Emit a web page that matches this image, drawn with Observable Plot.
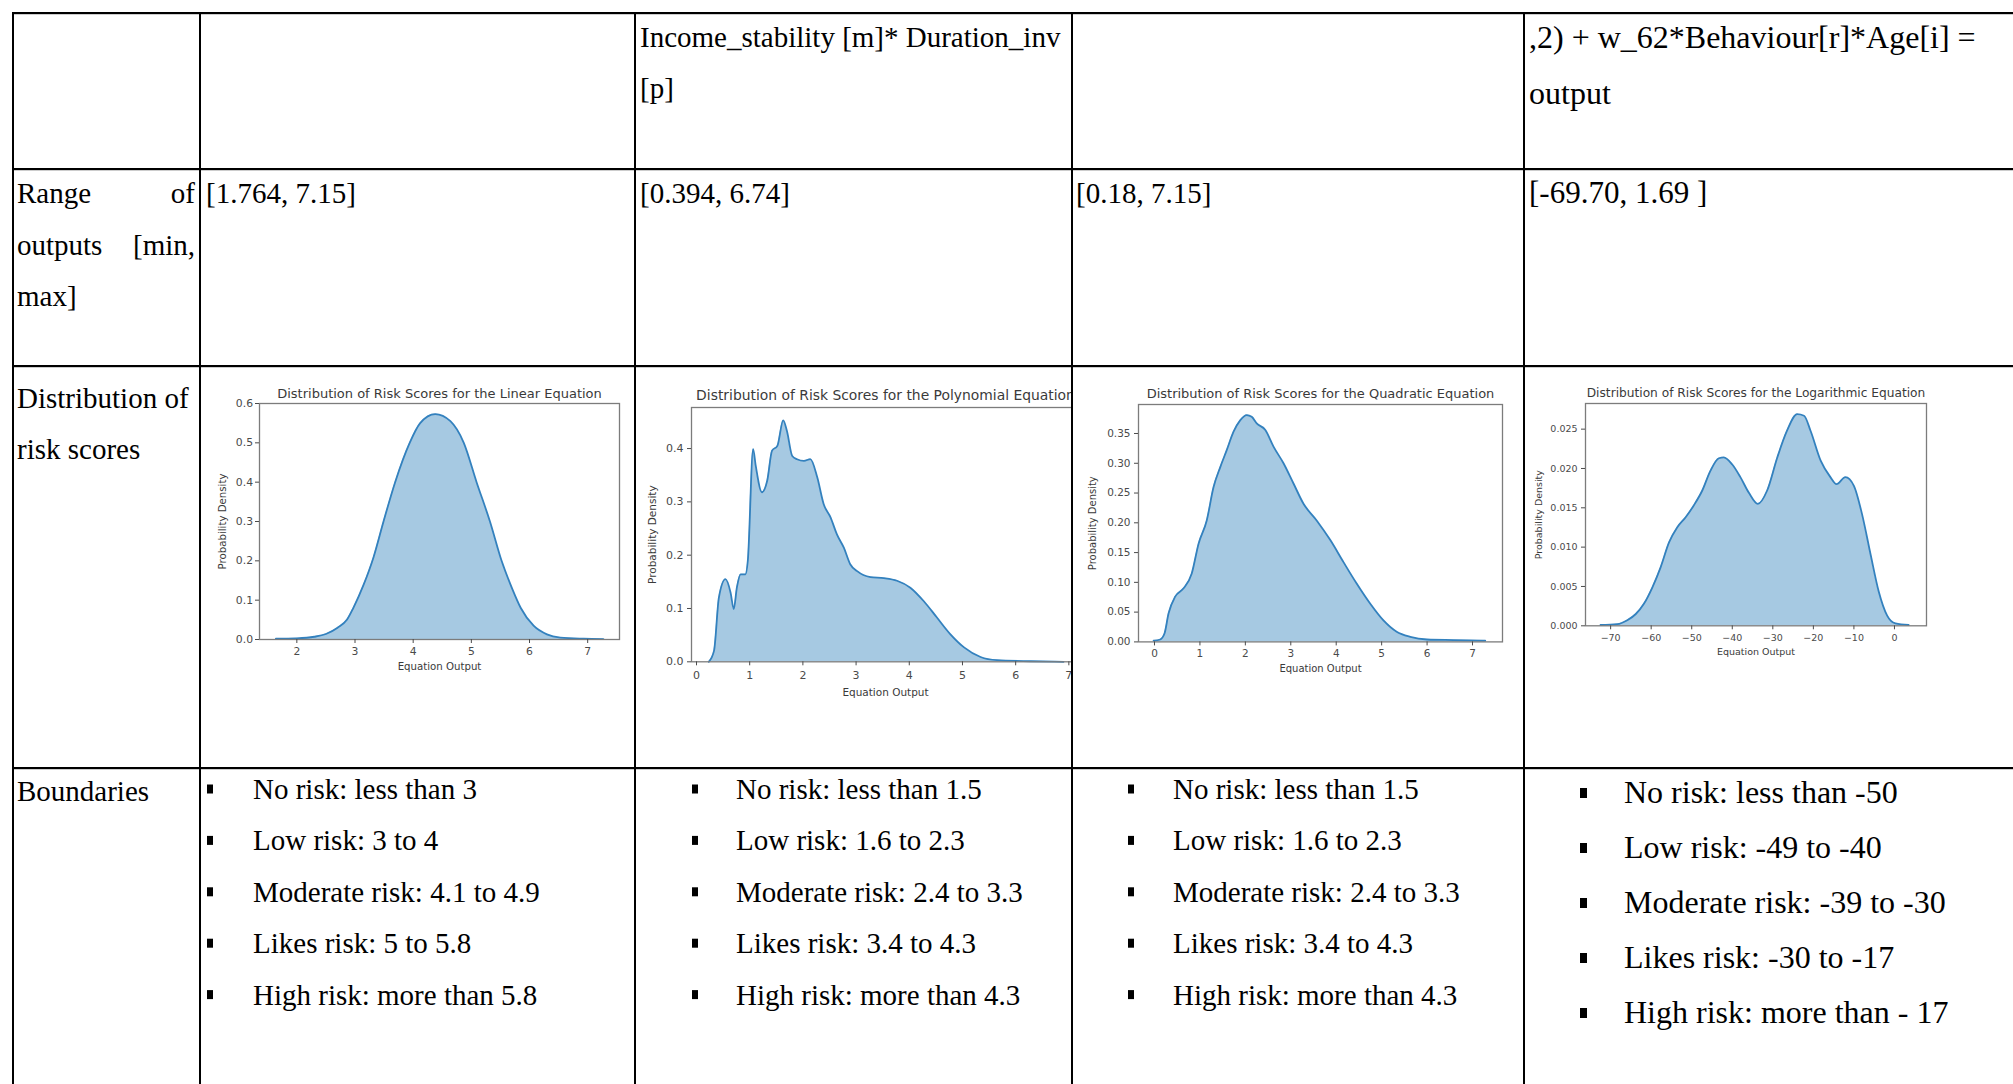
<!DOCTYPE html>
<html>
<head>
<meta charset="utf-8">
<script src="https://cdn.jsdelivr.net/npm/d3@7"></script>
<script src="https://cdn.jsdelivr.net/npm/@observablehq/plot@0.6"></script>
<style>
html, body { margin: 0; padding: 0; background: #fff; }
#page { position: relative; width: 2013px; height: 1084px; overflow: hidden; background: #fff; }
.clip { position: absolute; overflow: hidden; }
.clip svg { position: absolute; }
</style>
</head>
<body>
<div id="page"></div>
<script>
// ---------------- DATA ----------------
const rowLabelRange = [["Range", "of"], ["outputs", "[min,"], ["max]"]];
const rowLabelDist = ["Distribution of", "risk scores"];
const rowLabelBounds = ["Boundaries"];
const headerPoly = ["Income_stability [m]* Duration_inv", "[p]"];
const headerLog = [",2) + w_62*Behaviour[r]*Age[i] =", "output"];
const rangeTexts = ["[1.764, 7.15]", "[0.394, 6.74]", "[0.18, 7.15]", "[-69.70, 1.69 ]"];

const boundsLinear = ["No risk: less than 3", "Low risk: 3 to 4", "Moderate risk: 4.1 to 4.9", "Likes risk: 5 to 5.8", "High risk: more than 5.8"];
const boundsPoly = ["No risk: less than 1.5", "Low risk: 1.6 to 2.3", "Moderate risk: 2.4 to 3.3", "Likes risk: 3.4 to 4.3", "High risk: more than 4.3"];
const boundsQuad = ["No risk: less than 1.5", "Low risk: 1.6 to 2.3", "Moderate risk: 2.4 to 3.3", "Likes risk: 3.4 to 4.3", "High risk: more than 4.3"];
const boundsLog = ["No risk: less than -50", "Low risk: -49 to -40", "Moderate risk: -39 to -30", "Likes risk: -30 to -17", "High risk: more than - 17"];

const chartTitles = [
  "Distribution of Risk Scores for the Linear Equation",
  "Distribution of Risk Scores for the Polynomial Equation",
  "Distribution of Risk Scores for the Quadratic Equation",
  "Distribution of Risk Scores for the Logarithmic Equation"
];
const xAxisLabel = "Equation Output";
const yAxisLabel = "Probability Density";

// Linear equation density
const linearX = [1.64, 2.0, 2.3, 2.5, 2.7, 2.86, 2.97, 3.15, 3.32, 3.49, 3.69, 3.94, 4.12, 4.38, 4.64, 4.87, 5.09, 5.32, 5.52, 5.70, 5.85, 6.07, 6.30, 6.53, 6.93, 7.27];
const linearY = [0.002, 0.003, 0.007, 0.014, 0.030, 0.050, 0.080, 0.140, 0.210, 0.300, 0.400, 0.500, 0.550, 0.573, 0.555, 0.500, 0.400, 0.300, 0.200, 0.130, 0.080, 0.035, 0.013, 0.005, 0.002, 0.001];

// Polynomial equation density
const polyX = [0.23, 0.33, 0.42, 0.545, 0.64, 0.70, 0.76, 0.83, 0.92, 0.965, 1.065, 1.11, 1.23, 1.33, 1.42, 1.52, 1.63, 1.70, 1.80, 1.89, 2.02, 2.14, 2.27, 2.39, 2.52, 2.64, 2.77, 2.89, 3.02, 3.27, 3.52, 3.77, 4.02, 4.27, 4.52, 4.77, 5.03, 5.34, 5.65, 6.28, 6.90];
const polyY = [0.000, 0.021, 0.120, 0.155, 0.130, 0.099, 0.140, 0.164, 0.164, 0.190, 0.399, 0.370, 0.318, 0.340, 0.396, 0.405, 0.453, 0.433, 0.386, 0.380, 0.377, 0.380, 0.346, 0.296, 0.271, 0.239, 0.214, 0.183, 0.170, 0.159, 0.157, 0.152, 0.139, 0.114, 0.083, 0.052, 0.027, 0.009, 0.003, 0.001, 0.000];

// Quadratic equation density
const quadX = [-0.02, 0.125, 0.22, 0.31, 0.455, 0.64, 0.82, 0.97, 1.15, 1.30, 1.45, 1.59, 1.74, 1.885, 2.03, 2.14, 2.25, 2.44, 2.62, 2.84, 3.06, 3.28, 3.57, 3.87, 4.16, 4.45, 4.75, 5.04, 5.33, 5.63, 6.0, 6.58, 7.28];
const quadY = [0.002, 0.004, 0.014, 0.048, 0.076, 0.090, 0.115, 0.165, 0.204, 0.260, 0.294, 0.322, 0.353, 0.372, 0.381, 0.378, 0.367, 0.356, 0.328, 0.300, 0.266, 0.232, 0.204, 0.171, 0.134, 0.098, 0.064, 0.036, 0.017, 0.0084, 0.004, 0.003, 0.002];

// Logarithmic equation density
const logX = [-72.5, -68.4, -65.9, -63.8, -61.8, -59.7, -57.7, -55.6, -53.6, -51.5, -49.5, -47.4, -45.4, -43.3, -42.1, -40.0, -38.0, -35.9, -33.7, -31.4, -28.9, -26.5, -24.0, -22.3, -20.7, -18.2, -15.8, -14.3, -12.1, -10.0, -8.0, -5.9, -3.9, -1.8, 0.25, 3.5];
const logY = [0.0001, 0.0002, 0.0007, 0.0015, 0.0028, 0.0049, 0.0074, 0.0106, 0.0125, 0.0138, 0.0153, 0.0172, 0.0197, 0.0213, 0.0214, 0.0205, 0.0189, 0.0169, 0.0155, 0.0172, 0.0214, 0.0248, 0.0269, 0.0267, 0.0248, 0.0210, 0.0189, 0.0180, 0.0189, 0.0178, 0.0142, 0.0091, 0.0044, 0.0013, 0.0003, 0.0001];

// tick values
const linearXTicks = [2, 3, 4, 5, 6, 7];
const linearYTicks = [0, 0.1, 0.2, 0.3, 0.4, 0.5, 0.6];
const polyXTicks = [0, 1, 2, 3, 4, 5, 6, 7];
const polyYTicks = [0, 0.1, 0.2, 0.3, 0.4];
const quadXTicks = [0, 1, 2, 3, 4, 5, 6, 7];
const quadYTicks = [0, 0.05, 0.10, 0.15, 0.20, 0.25, 0.30, 0.35];
const logXTicks = [-70, -60, -50, -40, -30, -20, -10, 0];
const logYTicks = [0, 0.005, 0.010, 0.015, 0.020, 0.025];

// ---------------- LAYOUT ----------------
const W = 2013, H = 1084;
const H_LINES = [13, 169, 366, 768];
const V_LINES = [13, 200, 635, 1072, 1524];
const SERIF = "'Liberation Serif', 'Times New Roman', serif";
const SANS = "'DejaVu Sans', sans-serif";

const page = document.getElementById("page");

function drawChart(cfg) {
  const [L, R, T, B] = cfg.frame;
  const mL = 62, mR = 15, mT = 30, mB = 50;
  const w = R - L + mL + mR, h = B - T + mT + mB;
  const data = cfg.xs.map((x, i) => ({x, y: cfg.ys[i]}));
  const svg = Plot.plot({
    width: w, height: h,
    marginLeft: mL, marginRight: mR, marginTop: mT, marginBottom: mB,
    style: {fontFamily: SANS, fontSize: cfg.tickFont + "px", color: "#4a4a4a", background: "transparent", maxWidth: "none", overflow: "visible"},
    x: {domain: cfg.xDomain},
    y: {domain: cfg.yDomain},
    marks: [
      Plot.areaY(data, {x: "x", y: "y", fill: "#a6c9e2", curve: "monotone-x"}),
      Plot.lineY(data, {x: "x", y: "y", stroke: "#3381be", strokeWidth: 1.8, curve: "monotone-x"}),
      Plot.frame({stroke: "#7c7c7c", strokeWidth: 1.3}),
      Plot.axisX({ticks: cfg.xTicks, tickSize: 4, tickPadding: cfg.xPad, tickFormat: d3.format("d"), label: null, fontSize: cfg.tickFont, color: "#4a4a4a"}),
      Plot.axisY({ticks: cfg.yTicks, tickSize: 4, tickPadding: cfg.yPad, tickFormat: d3.format(cfg.yFmt), label: null, fontSize: cfg.tickFont, color: "#4a4a4a"}),
      Plot.text([cfg.title], {text: d => d, frameAnchor: "top", dy: cfg.titleDy, lineAnchor: "middle", textAnchor: "middle", fontSize: cfg.titleFont, fill: "#3a3a3a"}),
      Plot.text([xAxisLabel], {text: d => d, frameAnchor: "bottom", dy: cfg.xLabDy, lineAnchor: "middle", textAnchor: "middle", fontSize: cfg.labFont, fill: "#3a3a3a"}),
      Plot.text([yAxisLabel], {text: d => d, frameAnchor: "left", dx: cfg.yLabDx, rotate: -90, lineAnchor: "middle", textAnchor: "middle", fontSize: cfg.labFont, fill: "#3a3a3a"})
    ]
  });
  const box = document.createElement("div");
  box.className = "clip";
  const [cx0, cx1] = cfg.clip;
  box.style.left = cx0 + "px";
  box.style.top = "368px";
  box.style.width = (cx1 - cx0) + "px";
  box.style.height = "398px";
  svg.style.left = (L - mL - cx0) + "px";
  svg.style.top = (T - mT - 368) + "px";
  box.appendChild(svg);
  page.appendChild(box);
}

drawChart({xs: linearX, ys: linearY, frame: [259.3, 619.3, 403.3, 639.3], clip: [201, 634],
  xDomain: [1.358, 7.547], yDomain: [0, 0.6], xTicks: linearXTicks, yTicks: linearYTicks, yFmt: ".1f",
  title: chartTitles[0], titleFont: 13, titleDy: -9.5, tickFont: 10.8, labFont: 10.2, xPad: 4, yPad: 2.5, xLabDy: 27.4, yLabDx: -36.3});
drawChart({xs: polyX, ys: polyY, frame: [691, 1079, 406.7, 661], clip: [636, 1071],
  xDomain: [-0.094, 7.2], yDomain: [0, 0.477], xTicks: polyXTicks, yTicks: polyYTicks, yFmt: ".1f",
  title: chartTitles[1], titleFont: 13.9, titleDy: -11.7, tickFont: 11, labFont: 10.5, xPad: 5, yPad: 4, xLabDy: 30.7, yLabDx: -39.3});
drawChart({xs: quadX, ys: quadY, frame: [1138.3, 1502.3, 404.3, 641.7], clip: [1073, 1523],
  xDomain: [-0.352, 7.66], yDomain: [0, 0.3987], xTicks: quadXTicks, yTicks: quadYTicks, yFmt: ".2f",
  title: chartTitles[2], titleFont: 13, titleDy: -10.3, tickFont: 10.5, labFont: 10, xPad: 3.5, yPad: 4, xLabDy: 27.3, yLabDx: -45.3});
drawChart({xs: logX, ys: logY, frame: [1585, 1926, 402.7, 625], clip: [1525, 2013],
  xDomain: [-76.2, 7.9], yDomain: [0, 0.02826], xTicks: logXTicks, yTicks: logYTicks, yFmt: ".3f",
  title: chartTitles[3], titleFont: 12.2, titleDy: -10, tickFont: 9.5, labFont: 9.5, xPad: 4, yPad: 4, xLabDy: 26, yLabDx: -47});

// ---------------- TABLE OVERLAY ----------------
const ov = d3.select(page).append("svg")
  .attr("width", W).attr("height", H)
  .style("position", "absolute").style("left", "0px").style("top", "0px")
  .style("pointer-events", "none")
  .attr("font-family", SERIF).attr("fill", "#000");

H_LINES.forEach(y => ov.append("rect").attr("x", 12).attr("y", y - 1).attr("width", W - 12).attr("height", 2.2).attr("fill", "#000"));
V_LINES.forEach(x => ov.append("rect").attr("x", x - 1).attr("y", 12).attr("width", 2).attr("height", H - 12).attr("fill", "#000"));

function txt(x, y, s, size, anchor) {
  ov.append("text").attr("x", x).attr("y", y).attr("font-size", size)
    .attr("text-anchor", anchor || "start").text(s);
}

// header row
headerPoly.forEach((s, i) => txt(640, 47 + i * 51, s, 29));
headerLog.forEach((s, i) => txt(1529, 48 + i * 56, s, 32));

// range row
const rangeX = [206, 640, 1076, 1529];
rangeTexts.forEach((s, i) => txt(rangeX[i], 203, s, i === 3 ? 31 : 29));
rowLabelRange.forEach((pair, i) => {
  txt(17, 203 + i * 51.5, pair[0], 29);
  if (pair[1]) txt(195, 203 + i * 51.5, pair[1], 29, "end");
});

// distribution row
rowLabelDist.forEach((s, i) => txt(17, 408 + i * 51, s, 29));

// boundaries row
rowLabelBounds.forEach((s, i) => txt(17, 801, s, 29));
const boundCols = [
  {items: boundsLinear, bx: 207, tx: 253, y0: 799, dy: 51.4, size: 29, bw: 6, bh: 9},
  {items: boundsPoly, bx: 692, tx: 736, y0: 799, dy: 51.4, size: 29, bw: 6, bh: 9},
  {items: boundsQuad, bx: 1128, tx: 1173, y0: 799, dy: 51.4, size: 29, bw: 6, bh: 9},
  {items: boundsLog, bx: 1580, tx: 1624, y0: 803, dy: 55, size: 32, bw: 7, bh: 10}
];
boundCols.forEach(c => {
  c.items.forEach((s, i) => {
    const base = c.y0 + i * c.dy;
    ov.append("rect").attr("x", c.bx).attr("y", base - 10 - c.bh / 2).attr("width", c.bw).attr("height", c.bh).attr("fill", "#000");
    txt(c.tx, base, s, c.size);
  });
});
</script>
</body>
</html>
